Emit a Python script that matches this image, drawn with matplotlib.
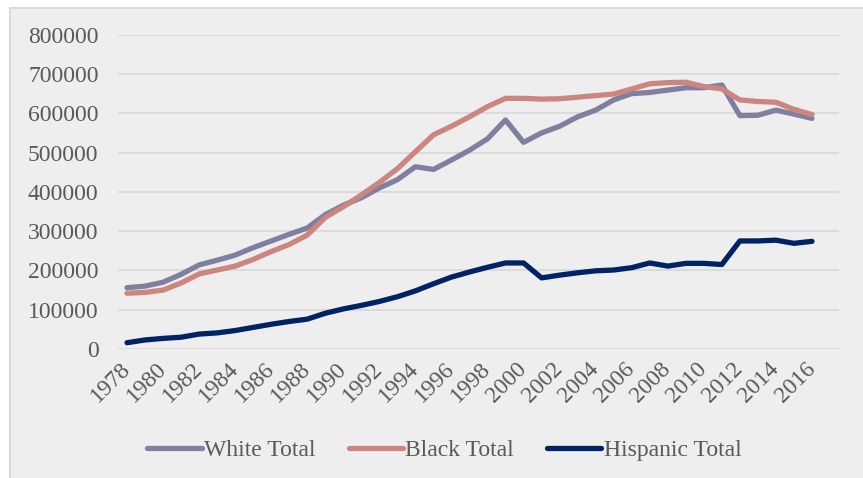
import matplotlib.pyplot as plt
from matplotlib.patches import Rectangle

years = list(range(1978, 2017))
tick_years = [str(y) for y in range(1978, 2017, 2)]

white_total = [
    156000, 160000, 170000, 190000, 214000, 226000, 239000, 258000, 275000, 292000,
    308000, 342000, 366000, 385000, 410000, 431000, 464000, 457000, 481000, 506000,
    535000, 583000, 526000, 550000, 567000, 591000, 608000, 634000, 650000, 653000,
    659000, 665000, 665000, 672000, 594000, 595000, 608000, 598000, 587000,
]
black_total = [
    142000, 144000, 150000, 168000, 191000, 201000, 211000, 228000, 248000, 266000,
    290000, 335000, 362000, 392000, 424000, 459000, 502000, 545000, 567000, 591000,
    617000, 638000, 638000, 636000, 637000, 641000, 645000, 649000, 662000, 675000,
    678000, 679000, 668000, 662000, 634000, 630000, 628000, 610000, 597000,
]
hispanic_total = [
    16000, 23000, 27000, 30000, 38000, 41000, 47000, 55000, 63000, 70000,
    76000, 91000, 102000, 111000, 121000, 133000, 148000, 166000, 183000, 196000,
    208000, 219000, 219000, 181000, 188000, 194000, 199000, 201000, 207000, 219000,
    211000, 218000, 218000, 215000, 275000, 275000, 277000, 269000, 274000,
]

plt.rcParams['font.family'] = ['Liberation Serif', 'DejaVu Serif']

fig = plt.figure(figsize=(8.63, 4.78), dpi=100)
fig.patch.set_facecolor('white')

# chart area panel with thin border
panel = Rectangle((10 / 863, -0.05), 1.1, 1 - 8 / 478 + 0.05, transform=fig.transFigure,
                  facecolor='#eeeeee', edgecolor='#d9d9d9', linewidth=1.5, zorder=0)
fig.patches.append(panel)

ax = fig.add_axes([118 / 863, 1 - 349 / 478, (839 - 118) / 863, (349 - 34.7) / 478])
ax.set_facecolor('none')
ax.set_zorder(2)

x = list(range(len(years)))
ax.plot(x, white_total, color='#7f7f9f', lw=3.8, solid_capstyle='round', label='White Total', zorder=3)
ax.plot(x, black_total, color='#cd8580', lw=3.8, solid_capstyle='round', label='Black Total', zorder=3)
ax.plot(x, hispanic_total, color='#002366', lw=3.8, solid_capstyle='round', label='Hispanic Total', zorder=4)

ax.set_xlim(-0.5, 39.5)
ax.set_ylim(0, 800000)
ax.set_yticks(range(0, 800001, 100000))
ax.set_yticklabels([str(v) for v in range(0, 800001, 100000)])
ax.set_xticks(x[::2])
ax.set_xticklabels(tick_years, rotation=45, ha='right', va='center', rotation_mode='anchor')

ax.grid(axis='y', color='#d9d9d9', lw=1.3)
ax.set_axisbelow(True)
for s in ax.spines.values():
    s.set_visible(False)
ax.tick_params(axis='both', length=0, colors='#595959', labelsize=17)
ax.tick_params(axis='y', pad=14)
ax.tick_params(axis='x', pad=12)

leg = fig.legend(loc='center', bbox_to_anchor=(0.515, 0.058), ncol=3, frameon=False,
                 fontsize=17, labelcolor='#595959', handlelength=2.3, handletextpad=0.1,
                 columnspacing=1.4)
leg.set_zorder(3)

fig.savefig('out.png', dpi=100)
